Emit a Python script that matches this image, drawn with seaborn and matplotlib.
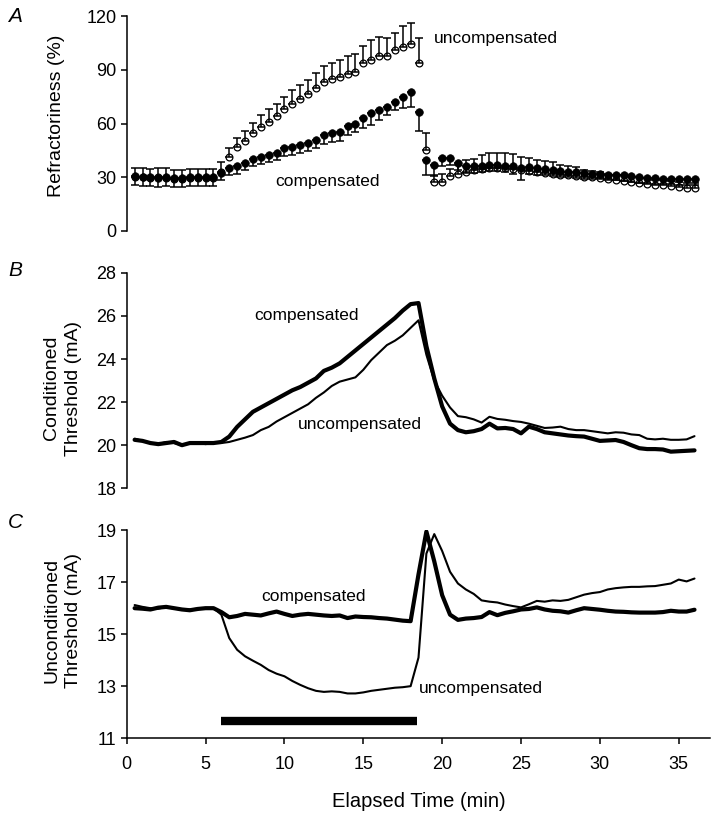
import numpy as np
import pandas as pd
import seaborn as sns
import matplotlib.pyplot as plt

# time points (min), sampled every 0.5 min
time = np.arange(0.5, 36.01, 0.5)

# A: refractoriness (%), mean and SE
refr_uncomp = [30, 30, 29.5, 30, 29.5, 29, 29, 29.5, 29.5, 29.5, 29.5,
               33, 41.5, 47, 50, 54.5, 58, 61, 64, 68, 71, 73.5, 76.5, 79.6,
               83, 84.6, 86, 87.6, 89, 93.5, 95.4, 97.8, 97.8, 101, 102.9, 104.4,
               93.5, 45, 27.5, 27.5, 30.5, 31.8, 33, 34, 34.5, 35, 35, 35,
               34.5, 34, 33.5, 33, 32.5, 32, 31.5, 31, 30.5, 30.3, 30, 29.5,
               29, 28.5, 28, 27.5, 27, 26.5, 25.7, 25.5, 25, 24.5, 24, 24]
refr_uncomp_se = [5, 5, 5, 5, 5.5, 5, 5, 5, 5, 5, 5,
                  5.5, 5, 5, 6, 6, 7, 7, 7, 7, 7.5, 8, 8, 8.5,
                  9, 9, 9.5, 10, 10, 10, 11, 10.7, 9.7, 9.3, 11.5, 11.8,
                  14, 9.5, 4, 4.5, 4, 5, 6.5, 6, 8, 8.5, 8.5, 8.5,
                  8.5, 7.5, 7, 6.5, 6.5, 6.5, 5.5, 5, 5, 4, 3.5, 3.5,
                  3, 3, 3, 3, 3, 3, 3, 3, 3, 3, 3, 3]
refr_comp = [30.5, 30, 30, 29.5, 30, 29.5, 29.5, 30, 30, 30, 30,
             32.2, 35, 36.3, 37.8, 40, 41.5, 42.4, 43.7, 46.1, 47, 48, 49, 50.8,
             53.6, 54.9, 55.4, 58.6, 60, 62.9, 65.7, 67.5, 69.4, 72.2, 75, 77.8,
             66.6, 39.6, 36.8, 40.5, 41, 37.8, 36, 36, 36.5, 36.8, 36.8, 36.5,
             36, 35, 35.5, 35, 34.5, 34, 33.5, 33, 32.8, 32.2, 32, 31.8,
             31.5, 31.3, 31, 30.5, 30, 29.7, 29.4, 29.2, 29, 28.8, 28.8, 28.8]
refr_comp_se = [5, 5, 5, 5, 5, 5, 5, 5, 5, 5, 5,
                4, 4, 4.5, 4, 4, 4, 4, 4, 4.5, 4.5, 4.5, 4.5, 4.5,
                5, 5, 5, 5, 5, 5.5, 6.5, 5.5, 4.7, 4.7, 6.5, 8.4,
                11, 8.4, 6, 4, 4, 3.5, 3.5, 3.5, 3.5, 3.5, 3.5, 3.5,
                4, 6.5, 3.5, 3.5, 3.5, 3.5, 3.5, 3, 3, 3, 3, 3,
                3, 3, 3, 3, 3, 3, 3, 3, 3, 3, 3, 3]

# B: conditioned threshold (mA)
cond_comp = [20.25, 20.2, 20.1, 20.05, 20.1, 20.15, 20.0, 20.1, 20.1, 20.1, 20.1,
             20.15, 20.4, 20.85, 21.2, 21.55, 21.75, 21.95, 22.15, 22.35, 22.55, 22.7,
             22.9, 23.1, 23.45, 23.6, 23.8, 24.1, 24.4, 24.7, 25.0, 25.3, 25.6, 25.9,
             26.25, 26.55, 26.6, 24.6, 23.1, 21.8, 21.0, 20.7, 20.6, 20.65, 20.75, 21.0,
             20.78, 20.8, 20.75, 20.55, 20.86, 20.75, 20.6, 20.55, 20.5, 20.45, 20.42,
             20.4, 20.3, 20.2, 20.22, 20.24, 20.15, 20.0, 19.86, 19.82, 19.82, 19.8,
             19.7, 19.72, 19.74, 19.76]
cond_uncomp = [20.3, 20.2, 20.1, 20.05, 20.15, 20.1, 20.0, 20.1, 20.1, 20.05, 20.1,
               20.1, 20.15, 20.25, 20.35, 20.47, 20.7, 20.85, 21.1, 21.3, 21.5, 21.7,
               21.9, 22.2, 22.45, 22.75, 22.95, 23.05, 23.15, 23.5, 23.95, 24.3, 24.65,
               24.85, 25.1, 25.45, 25.8, 24.2, 23.0, 22.3, 21.75, 21.35, 21.3, 21.2,
               21.05, 21.32, 21.22, 21.18, 21.12, 21.08, 21.0, 20.9, 20.8, 20.82, 20.86,
               20.75, 20.7, 20.7, 20.65, 20.6, 20.55, 20.6, 20.58, 20.5, 20.47, 20.3,
               20.27, 20.3, 20.25, 20.25, 20.27, 20.42]

# C: unconditioned threshold (mA)
uncond_comp = [16.0, 15.98, 15.95, 16.02, 16.05, 16.0, 15.95, 15.92, 15.97, 16.0, 16.0,
               15.85, 15.65, 15.7, 15.78, 15.75, 15.72, 15.8, 15.87, 15.78, 15.7, 15.75,
               15.78, 15.75, 15.72, 15.7, 15.72, 15.62, 15.68, 15.66, 15.65, 15.62, 15.6,
               15.56, 15.52, 15.5, 17.3, 18.95, 17.8, 16.5, 15.75, 15.55, 15.6, 15.62,
               15.66, 15.85, 15.73, 15.82, 15.88, 15.95, 15.97, 16.03, 15.95, 15.9, 15.88,
               15.83, 15.92, 16.0, 15.97, 15.94, 15.9, 15.87, 15.86, 15.84, 15.83, 15.83,
               15.83, 15.85, 15.9, 15.87, 15.87, 15.94]
uncond_uncomp = [16.12, 16.05, 16.0, 15.98, 16.05, 15.98, 15.95, 15.95, 15.98, 16.0, 16.0,
                 15.75, 14.85, 14.4, 14.15, 13.98, 13.82, 13.62, 13.48, 13.38, 13.2, 13.05,
                 12.92, 12.82, 12.78, 12.8, 12.78, 12.72, 12.72, 12.76, 12.82, 12.86, 12.9,
                 12.94, 12.96, 13.0, 14.1, 18.1, 18.85, 18.2, 17.4, 16.95, 16.72, 16.55,
                 16.3, 16.25, 16.22, 16.14, 16.08, 16.03, 16.15, 16.28, 16.25, 16.3, 16.28,
                 16.32, 16.42, 16.52, 16.58, 16.62, 16.72, 16.77, 16.8, 16.82, 16.82, 16.84,
                 16.85, 16.9, 16.95, 17.1, 17.03, 17.14]

# stimulation period bar in C
stim_start, stim_end, stim_level = 6.0, 18.4, 11.67

x_ticks = [0, 5, 10, 15, 20, 25, 30, 35]

sns.set_theme(style="ticks")
plt.rcParams['font.family'] = ['Liberation Sans', 'DejaVu Sans']
plt.rcParams['axes.linewidth'] = 1.1
plt.rcParams['xtick.major.width'] = 1.1
plt.rcParams['ytick.major.width'] = 1.1
plt.rcParams['xtick.major.size'] = 4.5
plt.rcParams['ytick.major.size'] = 4.5
plt.rcParams['xtick.labelsize'] = 13
plt.rcParams['ytick.labelsize'] = 13
plt.rcParams['axes.edgecolor'] = 'black'
plt.rcParams['xtick.color'] = 'black'
plt.rcParams['ytick.color'] = 'black'
plt.rcParams['xtick.labelcolor'] = 'black'
plt.rcParams['ytick.labelcolor'] = 'black'
plt.rcParams['axes.labelcolor'] = 'black'
plt.rcParams['text.color'] = 'black'

fig = plt.figure(figsize=(7.16, 8.22), dpi=100)
L, W = 0.177, 0.815
axA = fig.add_axes([L, 0.719, W, 0.2615])
axB = fig.add_axes([L, 0.406, W, 0.262])
axC = fig.add_axes([L, 0.102, W, 0.253])

zeros = np.zeros(len(time))

# --- Panel A ---
sns.scatterplot(x=time, y=refr_uncomp, ax=axA, s=24, color='white',
                edgecolor='black', linewidth=0.9, zorder=2)
axA.errorbar(time, refr_uncomp, yerr=[zeros, refr_uncomp_se], fmt='none',
             ecolor='black', elinewidth=1.1, capsize=3, capthick=1.1, zorder=3)
axA.errorbar(time, refr_comp, yerr=[refr_comp_se, zeros], fmt='none',
             ecolor='black', elinewidth=1.1, capsize=3, capthick=1.1, zorder=3)
sns.scatterplot(x=time, y=refr_comp, ax=axA, s=30, color='black',
                edgecolor='black', linewidth=0.5, zorder=4)
axA.set_ylim(0, 120)
axA.set_yticks([0, 30, 60, 90, 120])
axA.set_ylabel('Refractoriness (%)', fontsize=14)
axA.yaxis.set_label_coords(-0.106, 0.535)
axA.text(19.5, 107.7, 'uncompensated', fontsize=12.5, va='center')
axA.text(9.4, 27.5, 'compensated', fontsize=12.5, va='center')

# --- Panel B ---
sns.lineplot(x=time, y=cond_uncomp, ax=axB, color='black', linewidth=1.5)
sns.lineplot(x=time, y=cond_comp, ax=axB, color='black', linewidth=3.0)
axB.set_ylim(18, 28)
axB.set_yticks([18, 20, 22, 24, 26, 28])
axB.set_ylabel('Conditioned\nThreshold (mA)', fontsize=14, linespacing=1.35)
axB.yaxis.set_label_coords(-0.077, 0.465)
axB.text(8.1, 26.0, 'compensated', fontsize=12.5, va='center')
axB.text(10.86, 20.94, 'uncompensated', fontsize=12.5, va='center')

# --- Panel C ---
sns.lineplot(x=time, y=uncond_uncomp, ax=axC, color='black', linewidth=1.5)
sns.lineplot(x=time, y=uncond_comp, ax=axC, color='black', linewidth=3.0)
axC.plot([stim_start, stim_end], [stim_level, stim_level], color='black',
         linewidth=6, solid_capstyle='butt')
axC.set_ylim(11, 19)
axC.set_yticks([11, 13, 15, 17, 19])
axC.set_ylabel('Unconditioned\nThreshold (mA)', fontsize=14, linespacing=1.35)
axC.yaxis.set_label_coords(-0.077, 0.567)
axC.text(8.54, 16.46, 'compensated', fontsize=12.5, va='center')
axC.text(18.54, 12.92, 'uncompensated', fontsize=12.5, va='center')
axC.set_xlabel('Elapsed Time (min)', fontsize=14.5, labelpad=14)

for ax in (axA, axB, axC):
    ax.set_xlim(0, 37)
    ax.set_xticks(x_ticks)
    ax.spines['top'].set_visible(False)
    ax.spines['right'].set_visible(False)
    ax.tick_params(axis='y', pad=3)
    ax.tick_params(axis='x', pad=8)
for ax in (axA, axB):
    ax.spines['bottom'].set_visible(False)
    ax.tick_params(axis='x', bottom=False, labelbottom=False)
    ax.set_xlabel('')

for label, ypix in (('A', 17), ('B', 270), ('C', 523)):
    fig.text(15 / 716, 1 - ypix / 822, label, fontsize=15, style='italic',
             ha='center', va='center')

fig.savefig('out.png', dpi=100)
